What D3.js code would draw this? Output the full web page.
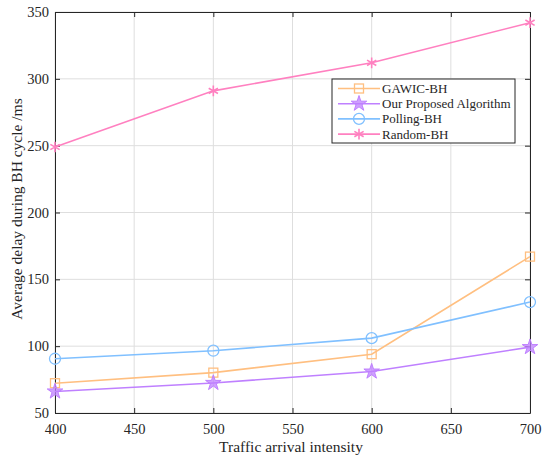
<!DOCTYPE html>
<html>
<head>
<meta charset="utf-8">
<script src="https://cdn.jsdelivr.net/npm/d3@7"></script>
<style>
body { margin: 0; background: #fff; }
text { font-family: "Liberation Serif", "Times New Roman", serif; fill: #262626; }
</style>
</head>
<body>
<div id="chart"></div>
<script>
var width = 550;
var height = 461;

// data
var intensity = [400, 500, 600, 700];
var gawic = [72.3, 80.2, 94, 167];
var proposed = [66.1, 72.5, 81, 99.3];
var polling = [90.6, 96.6, 106, 133];
var randomBH = [249, 291, 312, 342];
var xTicks = [400, 450, 500, 550, 600, 650, 700];
var yTicks = [50, 100, 150, 200, 250, 300, 350];

var series = [
  { name: "GAWIC-BH", values: gawic, color: "#ffbf80", marker: "square" },
  { name: "Our Proposed Algorithm", values: proposed, color: "#bf80ff", marker: "star" },
  { name: "Polling-BH", values: polling, color: "#80c0ff", marker: "circle" },
  { name: "Random-BH", values: randomBH, color: "#ff80c0", marker: "asterisk" }
];

var plot = { left: 55, top: 12, right: 530, bottom: 413 };

var svg = d3.select("#chart")
  .append("svg")
  .attr("width", width)
  .attr("height", height);

var xScale = d3.scaleLinear().domain([400, 700]).range([plot.left, plot.right]);
var yScale = d3.scaleLinear().domain([50, 350]).range([plot.bottom, plot.top]);

// grid
svg.append("g")
  .selectAll("line.vgrid")
  .data(xTicks)
  .enter()
  .append("line")
  .attr("x1", function(d) { return xScale(d); })
  .attr("x2", function(d) { return xScale(d); })
  .attr("y1", plot.top)
  .attr("y2", plot.bottom)
  .attr("stroke", "#dedede")
  .attr("stroke-width", 1);

svg.append("g")
  .selectAll("line.hgrid")
  .data(yTicks)
  .enter()
  .append("line")
  .attr("x1", plot.left)
  .attr("x2", plot.right)
  .attr("y1", function(d) { return yScale(d); })
  .attr("y2", function(d) { return yScale(d); })
  .attr("stroke", "#dedede")
  .attr("stroke-width", 1);

// axes (ticks inward, box on all sides)
function styleAxis(g) {
  g.select(".domain").attr("stroke", "#262626");
  g.selectAll(".tick line").attr("stroke", "#262626");
  g.selectAll(".tick text")
    .attr("font-family", "Liberation Serif, Times New Roman, serif")
    .attr("font-size", 14.5)
    .attr("fill", "#262626");
}

var xAxis = d3.axisBottom(xScale).tickValues(xTicks).tickSizeInner(-5).tickSizeOuter(0).tickPadding(11);
var yAxis = d3.axisLeft(yScale).tickValues(yTicks).tickSizeInner(-5).tickSizeOuter(0).tickPadding(6);

svg.append("g")
  .attr("transform", "translate(0," + plot.bottom + ")")
  .call(xAxis)
  .call(styleAxis);

svg.append("g")
  .attr("transform", "translate(" + plot.left + ",0)")
  .call(yAxis)
  .call(styleAxis);

svg.append("g")
  .attr("transform", "translate(0," + plot.top + ")")
  .call(d3.axisTop(xScale).tickValues(xTicks).tickSizeInner(-5).tickSizeOuter(0).tickFormat(""))
  .call(styleAxis);

svg.append("g")
  .attr("transform", "translate(" + plot.right + ",0)")
  .call(d3.axisRight(yScale).tickValues(yTicks).tickSizeInner(-5).tickSizeOuter(0).tickFormat(""))
  .call(styleAxis);

// axis labels
svg.append("text")
  .attr("x", 291)
  .attr("y", 452)
  .attr("text-anchor", "middle")
  .attr("font-size", 15.5)
  .text("Traffic arrival intensity");

svg.append("text")
  .attr("transform", "translate(22,209)rotate(-90)")
  .attr("text-anchor", "middle")
  .attr("font-size", 15.5)
  .text("Average delay during BH cycle /ms");

// markers
function drawMarker(g, type, color) {
  if (type === "square") {
    g.append("rect")
      .attr("x", -4.5).attr("y", -4.5)
      .attr("width", 9).attr("height", 9)
      .attr("fill", "none").attr("stroke", color).attr("stroke-width", 1.3);
  }
  else if (type === "circle") {
    g.append("circle")
      .attr("r", 5.5)
      .attr("fill", "none").attr("stroke", color).attr("stroke-width", 1.3);
  }
  else if (type === "star") {
    g.append("path")
      .attr("d", d3.symbol().type(d3.symbolStar).size(75)())
      .attr("fill", color).attr("fill-opacity", 0.75)
      .attr("stroke", color).attr("stroke-width", 1);
  }
  else {
    g.append("path")
      .attr("d", d3.symbol().type(d3.symbolAsterisk).size(80)())
      .attr("fill", "none").attr("stroke", color).attr("stroke-width", 1.6);
  }
}

var line = d3.line()
  .x(function(d, i) { return xScale(intensity[i]); })
  .y(function(d) { return yScale(d); });

series.forEach(function(s) {
  svg.append("path")
    .datum(s.values)
    .attr("d", line)
    .attr("fill", "none")
    .attr("stroke", s.color)
    .attr("stroke-width", 1.6);

  s.values.forEach(function(v, i) {
    var g = svg.append("g")
      .attr("transform", "translate(" + xScale(intensity[i]) + "," + yScale(v) + ")");
    drawMarker(g, s.marker, s.color);
  });
});

// legend
var legend = svg.append("g").attr("transform", "translate(332,79)");
legend.append("rect")
  .attr("width", 183)
  .attr("height", 64)
  .attr("fill", "#fff")
  .attr("stroke", "#262626")
  .attr("stroke-width", 1);

series.forEach(function(s, i) {
  var yy = 9.5 + i * 15.2;
  legend.append("line")
    .attr("x1", 6).attr("x2", 48)
    .attr("y1", yy).attr("y2", yy)
    .attr("stroke", s.color).attr("stroke-width", 1.6);
  var m = legend.append("g").attr("transform", "translate(27," + yy + ")");
  drawMarker(m, s.marker, s.color);
  legend.append("text")
    .attr("x", 50)
    .attr("y", yy + 4.5)
    .attr("font-size", 13)
    .text(s.name);
});
</script>
</body>
</html>
